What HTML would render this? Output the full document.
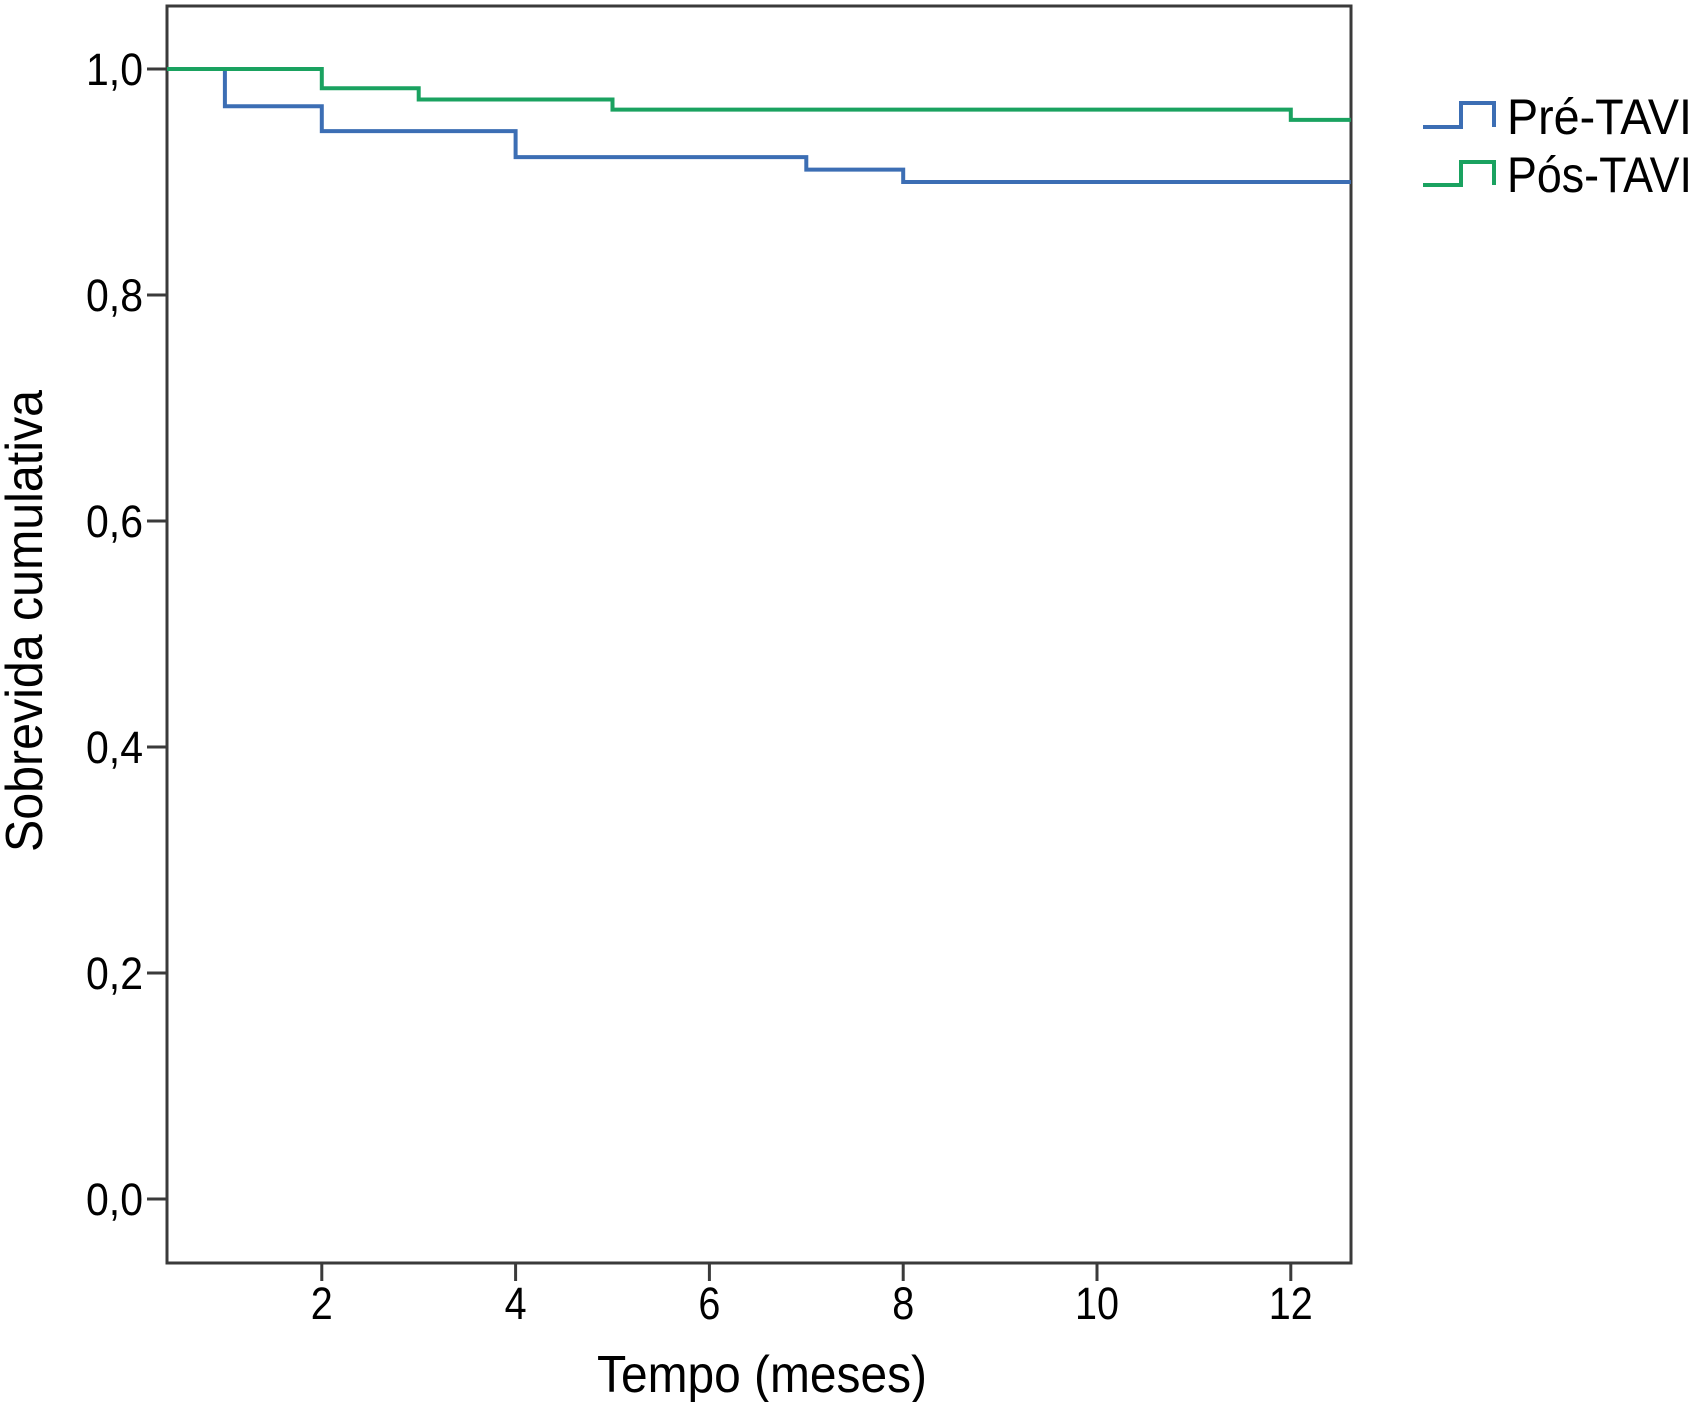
<!DOCTYPE html>
<html><head><meta charset="utf-8"><style>
html,body{margin:0;padding:0;background:#fff;}
svg{display:block;font-family:"Liberation Sans",sans-serif;}
</style></head><body>
<svg id="chart" width="1701" height="1402" viewBox="0 0 1701 1402">
<rect x="167" y="6" width="1184" height="1257" fill="#fff" stroke="#3a3a3a" stroke-width="3"/>
<g id="axes"></g>
<g id="series"></g>
<text x="762" y="1392" font-size="52" text-anchor="middle" textLength="330" lengthAdjust="spacingAndGlyphs">Tempo (meses)</text>
<text transform="translate(42,621) rotate(-90)" font-size="52" text-anchor="middle" textLength="462" lengthAdjust="spacingAndGlyphs">Sobrevida cumulativa</text>
<g>
<path d="M1423,127 H1461 V103 H1494 V127" fill="none" stroke="#3c6eb4" stroke-width="4"/>
<text x="1507" y="134" font-size="50" textLength="185" lengthAdjust="spacingAndGlyphs">Pré-TAVI</text>
<path d="M1423,185 H1461 V162 H1494 V185" fill="none" stroke="#1aa260" stroke-width="4"/>
<text x="1507" y="192" font-size="50" textLength="185" lengthAdjust="spacingAndGlyphs">Pós-TAVI</text>
</g>
</svg>
<script>
const yTicks=[0,0.2,0.4,0.6,0.8,1.0];
const yTickLabels=["0,0","0,2","0,4","0,6","0,8","1,0"];
const xTicks=[2,4,6,8,10,12];
const xTickLabels=["2","4","6","8","10","12"];
const preTimes=[0,1,2,4,7,8];
const preSurv=[1.0,0.967,0.945,0.922,0.911,0.900];
const posTimes=[0,2,3,5,12];
const posSurv=[1.0,0.983,0.973,0.964,0.955];
const xMax=12.62;
const X=t=>128+t*96.9;
const Y=v=>1199-v*1130;
const NS="http://www.w3.org/2000/svg";
const axes=document.getElementById('axes');
yTicks.forEach((v,i)=>{
  const l=document.createElementNS(NS,'line');
  
  
  l.setAttribute('x1',147);l.setAttribute('x2',167);l.setAttribute('y1',Y(v));l.setAttribute('y2',Y(v));
  l.setAttribute('stroke','#3a3a3a');l.setAttribute('stroke-width',3);axes.appendChild(l);
  const t=document.createElementNS(NS,'text');
  
  
  t.setAttribute('x',143);t.setAttribute('y',Y(v)+16);t.setAttribute('font-size',45);t.setAttribute('text-anchor','end');
  t.setAttribute('textLength',57);t.setAttribute('lengthAdjust','spacingAndGlyphs');
  t.textContent=yTickLabels[i];axes.appendChild(t);
});
xTicks.forEach((v,i)=>{
  const l=document.createElementNS(NS,'line');
  
  
  l.setAttribute('x1',X(v));l.setAttribute('x2',X(v));l.setAttribute('y1',1263);l.setAttribute('y2',1281);
  l.setAttribute('stroke','#3a3a3a');l.setAttribute('stroke-width',3);axes.appendChild(l);
  const t=document.createElementNS(NS,'text');
  
  
  t.setAttribute('x',X(v));t.setAttribute('y',1319);t.setAttribute('font-size',45);t.setAttribute('text-anchor','middle');
  t.setAttribute('textLength',xTickLabels[i].length*22);t.setAttribute('lengthAdjust','spacingAndGlyphs');
  t.textContent=xTickLabels[i];axes.appendChild(t);
});
function step(times,surv){
  let d='M'+167+','+Y(surv[0]);
  for(let i=1;i<times.length;i++){d+=' H'+X(times[i])+' V'+Y(surv[i]);}
  d+=' H'+X(xMax);return d;
}
const ser=document.getElementById('series');
[[preTimes,preSurv,'#3c6eb4','pre-tavi-curve'],[posTimes,posSurv,'#1aa260','pos-tavi-curve']].forEach(s=>{
  const p=document.createElementNS(NS,'path');
  
  
  p.setAttribute('d',step(s[0],s[1]));p.setAttribute('fill','none');p.setAttribute('stroke',s[2]);p.setAttribute('stroke-width',4);
  ser.appendChild(p);
});
</script>
</body></html>
